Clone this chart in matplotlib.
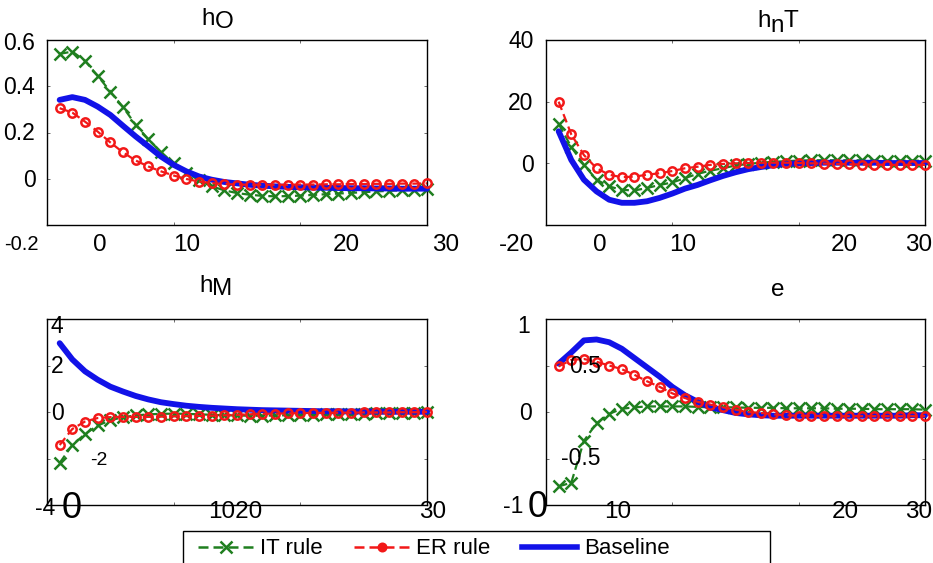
import matplotlib
matplotlib.use("Agg")
import matplotlib.pyplot as plt
from matplotlib.patches import Rectangle
from matplotlib.lines import Line2D

plt.rcParams['font.family'] = ['Liberation Sans', 'DejaVu Sans']

# ---------------- data ----------------
periods = list(range(1, 31))

ho_it = [0.54, 0.55, 0.51, 0.445, 0.377, 0.31, 0.233, 0.171, 0.114, 0.068, 0.027, -0.007,
         -0.033, -0.05, -0.062, -0.069, -0.074, -0.076, -0.075, -0.073, -0.07, -0.067,
         -0.064, -0.061, -0.058, -0.055, -0.052, -0.05, -0.047, -0.045]
ho_er = [0.305, 0.286, 0.247, 0.204, 0.157, 0.114, 0.079, 0.053, 0.032, 0.014, -0.001,
         -0.012, -0.019, -0.023, -0.025, -0.026, -0.026, -0.026, -0.026, -0.025, -0.025,
         -0.024, -0.024, -0.023, -0.023, -0.022, -0.022, -0.021, -0.021, -0.02]
ho_base = [0.341, 0.353, 0.341, 0.312, 0.276, 0.229, 0.183, 0.14, 0.096, 0.06, 0.032, 0.01,
           -0.004, -0.014, -0.02, -0.026, -0.03, -0.033, -0.035, -0.037, -0.038, -0.039,
           -0.04, -0.041, -0.041, -0.042, -0.042, -0.043, -0.043, -0.043]

hnt_it = [12.8, 5.3, -0.5, -5.3, -7.5, -8.6, -8.8, -8.0, -7.0, -6.2, -4.8, -3.4, -2.4, -1.6,
          -0.7, -0.2, 0.2, 0.5, 0.7, 0.9, 1.0, 1.0, 1.0, 1.0, 1.0, 0.9, 0.9, 0.9, 0.9, 0.8]
hnt_er = [20, 9.4, 2.7, -1.6, -3.7, -4.5, -4.3, -3.7, -3.2, -2.5, -1.6, -1.1, -0.5, -0.2, 0,
          0.1, 0.2, 0.2, 0.2, 0.1, 0.0, -0.1, -0.2, -0.3, -0.4, -0.4, -0.5, -0.5, -0.5, -0.5]
hnt_base = [10.4, 1.1, -5.3, -9.1, -11.8, -12.8, -12.8, -12.3, -11.2, -9.8, -8.2, -7.0, -5.5,
            -4.1, -2.9, -1.9, -1.2, -0.6, -0.2, 0.0, 0.1, 0.2, 0.2, 0.2, 0.2, 0.2, 0.1, 0.1,
            0.1, 0.1]

hm_it = [-2.19, -1.42, -0.95, -0.58, -0.36, -0.22, -0.15, -0.1, -0.08, -0.07, -0.08, -0.1,
         -0.12, -0.14, -0.15, -0.16, -0.16, -0.15, -0.14, -0.13, -0.12, -0.1, -0.09, -0.08,
         -0.07, -0.06, -0.05, -0.04, -0.03, -0.02]
hm_er = [-1.42, -0.73, -0.41, -0.26, -0.22, -0.21, -0.21, -0.21, -0.2, -0.19, -0.18, -0.17,
         -0.16, -0.14, -0.12, -0.1, -0.08, -0.07, -0.06, -0.05, -0.04, -0.04, -0.03, -0.03,
         -0.02, -0.02, -0.02, -0.01, -0.01, 0]
hm_base = [2.96, 2.26, 1.75, 1.39, 1.09, 0.88, 0.69, 0.54, 0.42, 0.34, 0.27, 0.22, 0.18, 0.15,
           0.12, 0.1, 0.08, 0.07, 0.06, 0.05, 0.04, 0.03, 0.03, 0.02, 0.02, 0.02, 0.01, 0.01,
           0.01, 0.01]

e_it = [-0.8, -0.76, -0.31, -0.12, -0.02, 0.035, 0.05, 0.06, 0.06, 0.06, 0.06, 0.055, 0.05,
        0.05, 0.05, 0.045, 0.045, 0.045, 0.04, 0.04, 0.04, 0.04, 0.035, 0.035, 0.035, 0.03,
        0.03, 0.03, 0.03, 0.025]
e_er = [0.49, 0.56, 0.57, 0.54, 0.5, 0.46, 0.4, 0.33, 0.27, 0.2, 0.15, 0.11, 0.08, 0.05,
        0.025, 0.0, -0.01, -0.025, -0.035, -0.04, -0.04, -0.045, -0.045, -0.045, -0.045,
        -0.045, -0.045, -0.045, -0.045, -0.045]
e_base = [0.52, 0.64, 0.77, 0.78, 0.75, 0.68, 0.58, 0.48, 0.38, 0.27, 0.18, 0.11, 0.05, 0.02,
          -0.01, -0.025, -0.035, -0.04, -0.04, -0.04, -0.04, -0.04, -0.04, -0.04, -0.04,
          -0.04, -0.04, -0.04, -0.035, -0.035]

series_names = ['IT rule', 'ER rule', 'Baseline']

# tick label texts (placed as in the reference, which has displaced labels)
tl_labels = ['0.6', '0.4', '0.2', '0', '-0.2', '0', '10', '20', '30']
tr_labels = ['40', '20', '0', '-20', '0', '10', '20', '30']
bl_labels = ['4', '2', '0', '-2', '-4', '0', '1020', '30']
br_labels = ['1', '0.5', '0', '-0.5', '-1', '0', '10', '20', '30']

# ---------------- layout / style ----------------
W, H = 933, 563
fig = plt.figure(figsize=(W / 100, H / 100), dpi=100)
fig.patch.set_facecolor('white')

GREEN = '#1f7f1f'
RED = '#f21818'
BLUE = '#1212e8'


def add_ax(l, t, r, b):
    return fig.add_axes([l / W, 1 - b / H, (r - l) / W, (b - t) / H])


def style(ax, ylim, yticks):
    ax.set_xlim(0, 30)
    ax.set_ylim(*ylim)
    ax.set_xticks([0, 10, 20, 30])
    ax.set_yticks(yticks)
    ax.tick_params(direction='in', length=2.5, width=0.6, top=True, right=True,
                   labelbottom=False, labelleft=False, colors='#555555')
    for s in ax.spines.values():
        s.set_linewidth(1.0)
        s.set_color('black')


def draw(ax, it, er, base):
    ax.plot(periods, it, color=GREEN, ls=(0, (4, 2)), lw=1.6, marker='x', ms=8.5,
            mew=1.8, clip_on=False, zorder=3)
    ax.plot(periods, base, color=BLUE, ls='-', lw=4.2, clip_on=False, zorder=4,
            solid_capstyle='round')
    ax.plot(periods, er, color=RED, ls=(0, (4, 2)), lw=1.6, marker='o', ms=6,
            mfc='none', mew=1.8, clip_on=False, zorder=5)


axes_px = [(47, 40, 427, 225), (546, 40, 925, 225), (47, 319, 427, 505), (546, 319, 925, 505)]
ax1, ax2, ax3, ax4 = [add_ax(*p) for p in axes_px]
style(ax1, (-0.2, 0.6), [-0.2, 0, 0.2, 0.4, 0.6])
style(ax2, (-20, 40), [-20, 0, 20, 40])
style(ax3, (-4, 4), [-4, -2, 0, 2, 4])
style(ax4, (-1, 1), [-1, -0.5, 0, 0.5, 1])

draw(ax1, ho_it, ho_er, ho_base)
draw(ax2, hnt_it, hnt_er, hnt_base)
draw(ax3, hm_it, hm_er, hm_base)
draw(ax4, e_it, e_er, e_base)


def put_labels(labels, xs, ys, sizes):
    for s, x, y, fs in zip(labels, xs, ys, sizes):
        fig.text(x / W, 1 - y / H, s, ha='center', va='baseline', fontsize=fs,
                 color='black')


YS, XS, BIG = 16.5, 17.5, 26
put_labels(tl_labels,
           [19, 19, 19, 29, 21, 100, 187, 346, 446],
           [50, 94, 140, 187, 250, 251, 251, 251, 251],
           [YS, YS, YS, YS, 14.5, XS, XS, XS, XS])
put_labels(tr_labels,
           [521, 521, 527, 517, 600, 683, 844, 919],
           [48, 110, 172, 251, 251, 251, 251, 251],
           [YS, YS, YS, XS, XS, XS, XS, XS])
put_labels(bl_labels,
           [57, 57, 57, 99, 45, 72, 235, 433],
           [333, 373, 420, 465, 515, 518, 518, 518],
           [YS, YS, YS, 14, YS, BIG, XS, XS])
put_labels(br_labels,
           [524, 585, 526, 581, 513, 538, 618, 845, 919],
           [333, 373, 420, 465, 513, 517, 518, 518, 518],
           [YS, YS, YS, YS, YS, BIG, XS, XS, XS])

# ---------------- titles (with lowered parts) ----------------
renderer = fig.canvas.get_renderer()


def title(parts, x0, y0, fs=17.5):
    x = x0
    for txt, dy in parts:
        t = fig.text(x / W, 1 - (y0 + dy) / H, txt, ha='left', va='baseline', fontsize=fs)
        bb = t.get_window_extent(renderer=renderer)
        x += bb.width


title([('h', 0), ('O', 3)], 201, 25)
title([('h', 0), ('n', 5), ('T', 0)], 757, 27)
title([('h', 0), ('M', 3)], 199, 292)
title([('e', 0)], 771, 296)

# ---------------- legend ----------------
fig.add_artist(Rectangle((183 / W, 1 - 575 / H), (770 - 183) / W, (575 - 531) / H,
                         transform=fig.transFigure, fill=False, lw=1.0, ec='black'))
handles = [
    Line2D([], [], color=GREEN, ls=(0, (4, 2)), lw=1.8, marker='x', ms=8, mew=1.8),
    Line2D([], [], color=RED, ls=(0, (4, 2)), lw=1.8, marker='o', ms=5.5, mfc=RED, mew=1.7),
    Line2D([], [], color=BLUE, ls='-', lw=4.0),
]
fig.legend(handles, series_names, loc='center left', bbox_to_anchor=(198 / W, 1 - 549 / H),
           ncol=3, frameon=False, fontsize=16, handlelength=2.5, handletextpad=0.3,
           columnspacing=1.4, borderpad=0, borderaxespad=0)

fig.savefig('out.png', dpi=100, facecolor='white')
